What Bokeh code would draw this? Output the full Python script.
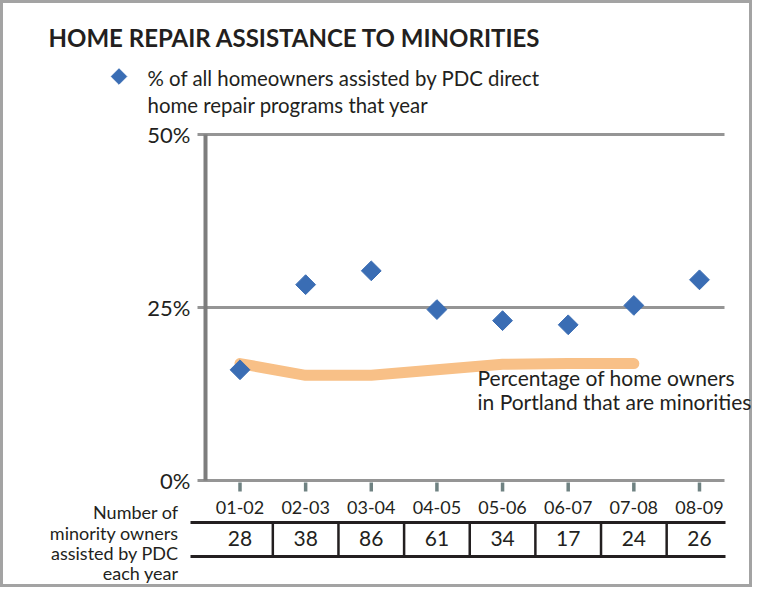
import math
from bokeh.plotting import figure
from bokeh.models import Range1d, Label
from bokeh.core.properties import value
from bokeh.embed import file_html
from bokeh.resources import INLINE

# ---------------- data ----------------
years = ["01-02", "02-03", "03-04", "04-05", "05-06", "06-07", "07-08", "08-09"]
assisted_pct = [16.0, 28.3, 30.3, 24.7, 23.1, 22.5, 25.3, 29.0]
minority_owner_pct = [16.9, 15.2, 15.2, 16.0, 16.8, 16.9, 16.9]   # 01-02 .. 07-08
owners_assisted = [28, 38, 86, 61, 34, 17, 24, 26]
y_ticks = [0, 25, 50]
y_tick_labels = ["0%", "25%", "50%"]
row_label = ["Number of", "minority owners", "assisted by PDC", "each year"]
title_text = "HOME REPAIR ASSISTANCE TO MINORITIES"
legend_text = ["% of all homeowners assisted by PDC direct",
               "home repair programs that year"]
note_text = ["Percentage of home owners", "in Portland that are minorities"]

idx = list(range(len(years)))

# ---------------- layout helpers (canvas px -> data) ----------------
PX0, DX = 239.5, 65.64   # x of first category, px per category
PY0, DY = 480.0, 6.92    # y of 0 %, px per percent
W, H = 752, 587


def X(px):
    return (px - PX0) / DX


def Y(py):
    return (PY0 - py) / DY


FONT_NAME = "Lato"
FONT = value(FONT_NAME)
TXT = "#231f20"
GRID = "#959595"
AXIS = "#7d7d7d"
BLUE = "#3a6db4"
ORANGE = "#f8c087"

p = figure(width=W, height=H,
           x_range=Range1d(X(0), X(W)), y_range=Range1d(Y(H), Y(0)),
           min_border=0, x_axis_location=None, y_axis_location=None,
           toolbar_location=None, output_backend="svg",
           background_fill_color="white", border_fill_color="white",
           outline_line_color="#a3a3a3", outline_line_width=5)
p.grid.visible = False

# gridlines (incl. baseline at 0)
p.segment(x0=X(197), x1=X(724), y0=y_ticks, y1=y_ticks,
          line_color=GRID, line_width=3)
# y axis line
p.segment(x0=[X(205)], x1=[X(205)], y0=[y_ticks[0]], y1=[y_ticks[-1]],
          line_color=AXIS, line_width=4)
# x ticks
p.segment(x0=idx, x1=idx, y0=Y(482), y1=Y(491), line_color="#6f8282", line_width=3.5)

# y tick labels
p.text(x=X(190), y=y_ticks, text=y_tick_labels, text_font=FONT,
       text_font_size="22px", text_align="right", text_baseline="middle",
       text_color=TXT)
# category labels
p.text(x=idx, y=Y(507), text=years, text_font=FONT, text_font_size="18px",
       text_align="center", text_baseline="middle", text_color=TXT)

# table
p.segment(x0=X(190), x1=X(725), y0=[Y(522), Y(556)], y1=[Y(522), Y(556)],
          line_color="#231f20", line_width=3)
sep = [i + 0.5 for i in idx[:-1]]
p.segment(x0=sep, x1=sep, y0=Y(522), y1=Y(556), line_color="#231f20", line_width=2.5)
p.text(x=idx, y=Y(538), text=[str(n) for n in owners_assisted], text_font=FONT,
       text_font_size="21px", text_align="center", text_baseline="middle",
       text_color=TXT)
p.text(x=X(178), y=[Y(511), Y(532), Y(552), Y(572)], text=row_label,
       text_font=FONT, text_font_size="18px", text_align="right",
       text_baseline="middle", text_color=TXT)

# orange reference line
p.line(x=idx[:len(minority_owner_pct)], y=minority_owner_pct, line_color=ORANGE,
       line_width=11, line_cap="round", line_join="round")
p.text(x=X(477), y=[Y(377), Y(401)], text=note_text, text_font=FONT,
       text_font_size="21px", text_align="left", text_baseline="middle",
       text_color=TXT)

# diamonds
p.scatter(x=idx, y=assisted_pct, marker="square", angle=math.pi / 4,
          size=14, fill_color=BLUE, line_color=BLUE)

# title
p.add_layout(Label(x=X(48), y=Y(37), text=title_text, text_font=FONT_NAME,
                   text_font_size="24px", text_font_style="bold",
                   text_color=TXT, text_baseline="middle"))

# legend key + legend text
p.scatter(x=[X(118.5)], y=[Y(76)], marker="square", angle=math.pi / 4,
          size=11, fill_color=BLUE, line_color=BLUE)
p.text(x=X(147), y=[Y(77), Y(104)], text=legend_text, text_font=FONT,
       text_font_size="20.4px", text_align="left", text_baseline="middle",
       text_color=TXT)

open("out.html", "w").write(file_html(p, INLINE))
